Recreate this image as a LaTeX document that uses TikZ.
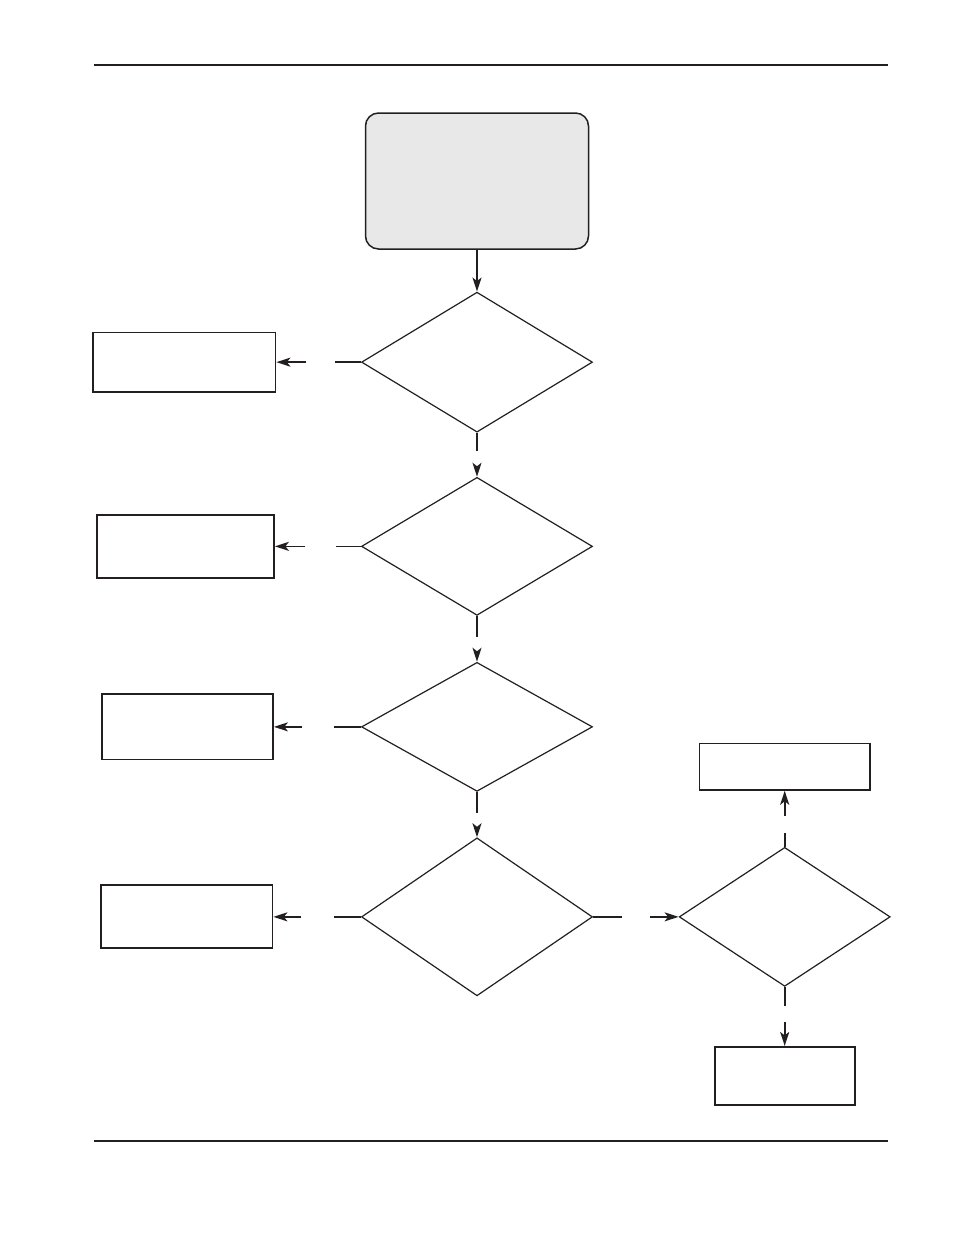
\documentclass[tikz,border=0pt]{standalone}
\usepackage{tikz}
\usetikzlibrary{arrows.meta,positioning,shapes.geometric}
\definecolor{ink}{HTML}{231F20}
\definecolor{startgray}{HTML}{E8E8E8}
\begin{document}
\begin{tikzpicture}[x=1pt, y=-1pt, every node/.style={inner sep=0pt},
    decision/.style={draw=ink, line width=1.2pt, shape=diamond, minimum width=231pt},
    outcome/.style={draw=ink, line width=1.5pt, rectangle},
    flow/.style={-{Stealth[length=14pt, width=9pt, inset=3.5pt]}, line width=1.7pt, ink}]
        \useasboundingbox (0,0) rectangle (954,1235);
        \draw[ink, line width=1.3pt] (94,65) -- (888,65);
        \draw[ink, line width=2.6pt] (94,1141) -- (888,1141);
        \node[draw=ink, fill=startgray, line width=1.5pt, rounded corners=13pt, minimum width=223pt, minimum height=136pt] (start) at (477,181) {};
        \node[decision, minimum height=140pt, below=41.8pt of start] (check1) {};
        \node[decision, minimum height=138pt, below=44pt of check1] (check2) {};
        \node[decision, minimum height=129pt, below=45.8pt of check2] (check3) {};
        \node[decision, minimum height=158pt, below=45.3pt of check3] (check4) {};
        \node[decision, minimum width=211pt, minimum height=139pt, right=85.5pt of check4] (check5) {};
        \node[outcome, minimum width=182.5pt, minimum height=59.5pt, left=84.5pt of check1] (act1) {};
        \node[outcome, line width=1.8pt, minimum width=177pt, minimum height=62.5pt, left=86pt of check2] (act2) {};
        \node[outcome, minimum width=171pt, minimum height=65.5pt, left=87pt of check3] (act3) {};
        \node[outcome, line width=1.8pt, minimum width=171.5pt, minimum height=63pt, left=87.5pt of check4] (act4) {};
        \node[outcome, minimum width=170.5pt, minimum height=46.5pt, above=56pt of check5] (act5) {};
        \node[outcome, line width=1.8pt, minimum width=140pt, minimum height=58pt, below=59pt of check5] (act6) {};
        \draw[flow] (start) -- (check1);
        % connectors with a gap where the answer would go
        \foreach \a/\b/\pre/\gap in {check1/act1/25.5/29, check2/act2/24.5/31, check3/act3/26.5/32, check4/act4/27/33, check1/check2/18/15, check2/check3/21/15, check3/check4/21/17, check4/check5/29/28, check5/act5/14/17, check5/act6/19.5/16}{\draw[flow, dash pattern=on \pre pt off \gap pt on 300pt] (\a) -- (\b);}
      \end{tikzpicture}
\end{document}
